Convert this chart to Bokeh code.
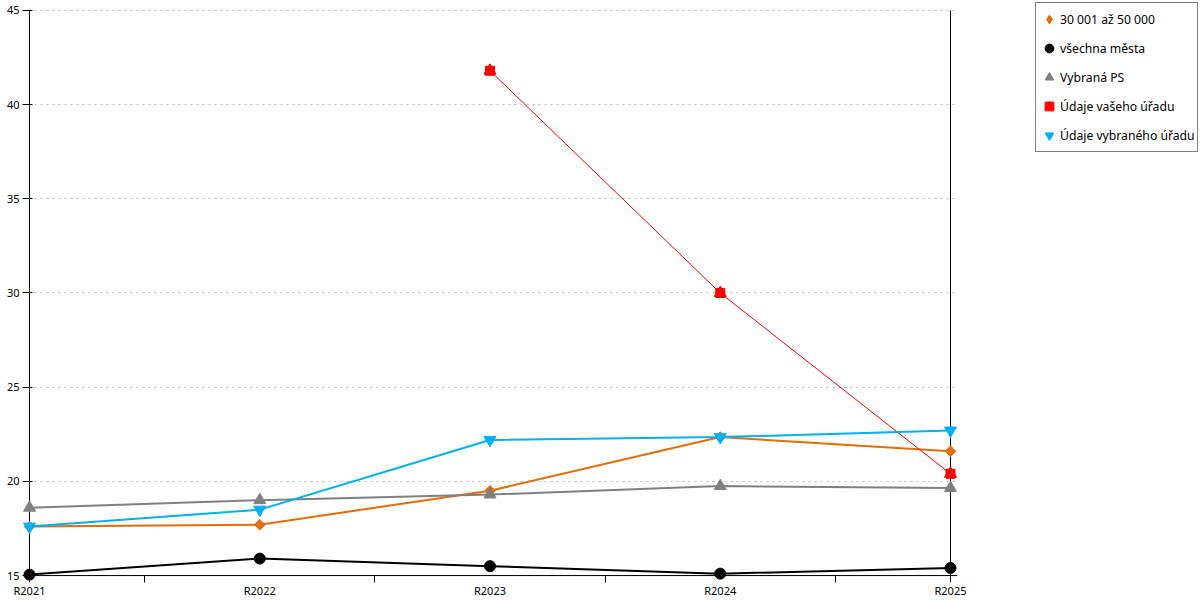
from bokeh.plotting import figure
from bokeh.layouts import row
from bokeh.models import (Range1d, FixedTicker, Legend, LegendItem, Span,
                          ColumnDataSource)
from bokeh.embed import file_html
from bokeh.resources import INLINE
import numpy as np

years = ["R2021", "R2022", "R2023", "R2024", "R2025"]
s_orange = [17.6, 17.7, 19.5, 22.35, 21.6]
s_black = [15.05, 15.9, 15.5, 15.1, 15.4]
s_gray = [18.6, 19.0, 19.3, 19.75, 19.65]
s_red = [np.nan, np.nan, 41.8, 30.0, 20.4]
s_cyan = [17.6, 18.5, 22.2, 22.35, 22.7]
y_ticks = [15, 20, 25, 30, 35, 40, 45]
y_min, y_max = 15, 45

FONT = "Noto Sans"
x = list(range(len(years)))
n = len(years) - 1

# layout (pixels)
W, H = 1010, 600
B_LEFT, B_RIGHT, B_TOP, B_BOTTOM = 22, 53, 2, 14
PAD = 7        # room so that edge markers are not clipped
TOP_GAP = 8    # empty frame space above the top value
FW = W - B_LEFT - B_RIGHT
FH = H - B_TOP - B_BOTTOM
ax = PAD * n / (FW - 2 * PAD)
ppu = (FH - PAD - TOP_GAP) / (y_max - y_min)
y_lo = y_min - PAD / ppu
y_hi = y_max + TOP_GAP / ppu

p = figure(width=W, height=H, output_backend="svg", toolbar_location=None,
           title=None,
           x_range=Range1d(-ax, n + ax), y_range=Range1d(y_lo, y_hi),
           min_border_left=B_LEFT, min_border_right=B_RIGHT,
           min_border_top=B_TOP, min_border_bottom=B_BOTTOM)
p.outline_line_color = None

# x axis (ticks between categories)
xa = p.xaxis[0]
xa.ticker = FixedTicker(ticks=x, minor_ticks=[i + 0.5 for i in x[:-1]])
xa.major_label_overrides = {i: years[i] for i in x}
xa.major_tick_line_color = None
xa.major_tick_out = 0
xa.major_tick_in = 0
xa.minor_tick_in = PAD
xa.minor_tick_out = 0
xa.minor_tick_line_color = "black"
xa.axis_line_color = None
xa.major_label_standoff = 0
xa.major_label_text_font = FONT
xa.major_label_text_font_size = "11px"
xa.major_label_text_color = "black"

# y axis
ya = p.yaxis[0]
ya.ticker = FixedTicker(ticks=y_ticks)
ya.major_tick_in = PAD + 3
ya.major_tick_out = 0
ya.minor_tick_line_color = None
ya.axis_line_color = None
ya.major_label_standoff = 3
ya.major_label_text_font = FONT
ya.major_label_text_font_size = "11px"
ya.major_label_text_color = "black"

p.xgrid.visible = False
p.ygrid.ticker = FixedTicker(ticks=y_ticks[1:])
p.ygrid.grid_line_color = "#bbbbbb"
p.ygrid.grid_line_dash = "2 4"

# axis lines through the first/last category and the minimum value
p.segment(x0=[x[0], x[-1]], y0=[y_lo, y_lo], x1=[x[0], x[-1]],
          y1=[y_ticks[-1], y_ticks[-1]], line_color="black", line_width=1)
p.add_layout(Span(location=y_min, dimension="width", line_color="black", line_width=1))

# legend figure (its glyphs share the data but lie outside its ranges)
p2 = figure(width=1200 - W, height=H, output_backend="svg", toolbar_location=None,
            title=None, x_range=Range1d(0, 1), y_range=Range1d(0, 1),
            x_axis_type=None, y_axis_type=None,
            min_border_left=25, min_border_top=2, min_border_right=0,
            min_border_bottom=0)
p2.outline_line_color = None
p2.xgrid.visible = False
p2.ygrid.visible = False

items = []

def series(vals, color, marker, size, lw, label, angle=0.0, leg_marker=None):
    src = ColumnDataSource(dict(x=x, y=vals))
    p.line("x", "y", source=src, line_color=color, line_width=lw)
    p.scatter("x", "y", source=src, marker=marker, size=size, angle=angle,
              fill_color=color, line_color=color)
    r = p2.scatter("x", "y", source=src, marker=leg_marker or marker, size=size,
                   fill_color=color, line_color=color)
    items.append(LegendItem(label=label, renderers=[r]))

series(s_orange, "#E46C0A", "square", 7.5, 2, "30 001 až 50 000",
       angle=np.pi / 4, leg_marker="diamond")
series(s_black, "#000000", "circle", 11, 2, "všechna města")
series(s_gray, "#808080", "triangle", 12, 2, "Vybraná PS")

# red "house" marker: square + triangle
RED = "#FF0000"
src_r = ColumnDataSource(dict(x=x, y=s_red))
p.line("x", "y", source=src_r, line_color=RED, line_width=1)
p.scatter("x", "y", source=src_r, marker="square", size=9, fill_color=RED, line_color=RED)
p.scatter("x", "y", source=src_r, marker="triangle", size=12, fill_color=RED, line_color=RED)
l1 = p2.scatter("x", "y", source=src_r, marker="square", size=9, fill_color=RED, line_color=RED)
l2 = p2.scatter("x", "y", source=src_r, marker="triangle", size=12, fill_color=RED, line_color=RED)
items.append(LegendItem(label="Údaje vašeho úřadu", renderers=[l1, l2]))

series(s_cyan, "#00B0F0", "inverted_triangle", 12, 2, "Údaje vybraného úřadu")

leg = Legend(items=items, location="top_left", margin=0, padding=2,
             spacing=1, label_height=28, glyph_height=28, glyph_width=22,
             label_standoff=-4, label_text_font=FONT, label_text_font_size="12.2px",
             label_text_color="black", border_line_color="black",
             border_line_width=1, background_fill_color="white",
             background_fill_alpha=1.0)
p2.add_layout(leg, "center")

layout = row(p, p2)
open("out.html", "w").write(file_html(layout, INLINE))
